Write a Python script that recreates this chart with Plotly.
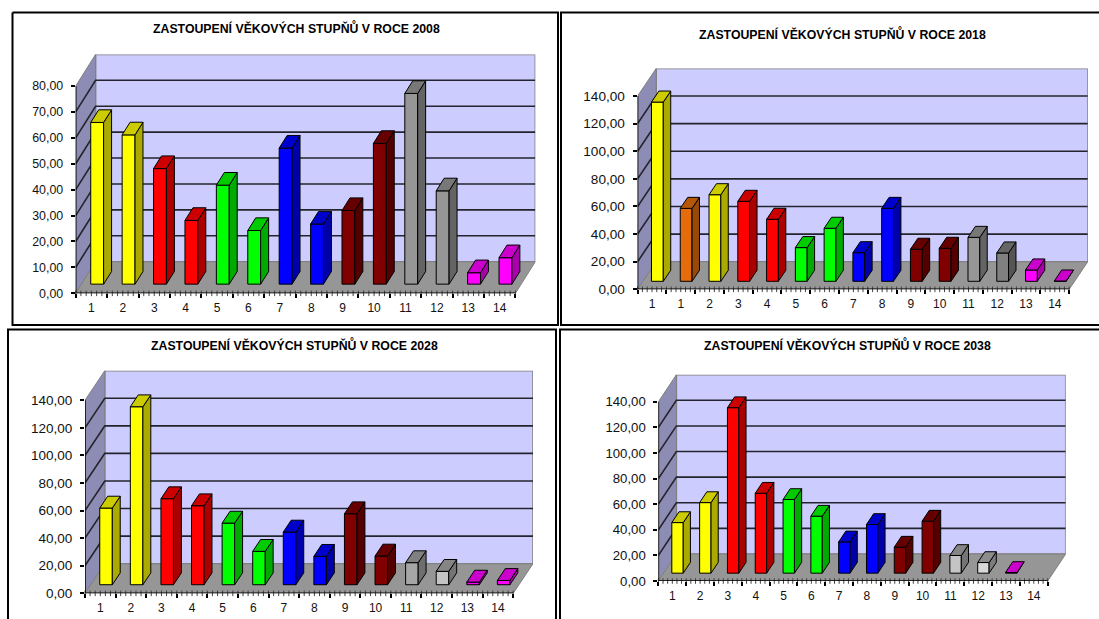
import plotly.graph_objects as go

WIDTH, HEIGHT = 1099, 619

# Age-class shares for each year
years = [2008, 2018, 2028, 2038]
labels_2008 = [str(i) for i in range(1, 15)]
labels_2018 = ["1"] + [str(i) for i in range(1, 15)]
labels_2028 = [str(i) for i in range(1, 15)]
labels_2038 = [str(i) for i in range(1, 15)]

values_2008 = [62.4, 57.6, 44.6, 24.6, 38.2, 20.7, 52.5, 23.2, 28.4, 54.3, 73.6, 36.0, 4.4, 10.2]
values_2018 = [129.8, 52.8, 62.7, 57.9, 44.9, 24.4, 38.4, 20.7, 52.8, 23.2, 23.9, 31.8, 20.5, 8.2, 0.2]
values_2028 = [55.6, 129.1, 62.4, 57.3, 44.7, 24.2, 38.2, 20.6, 51.5, 20.8, 16.0, 9.7, 1.9, 3.1]
values_2038 = [39.5, 55.1, 129.2, 62.4, 57.5, 44.5, 24.4, 38.0, 20.3, 40.6, 13.8, 8.3, 0.5, None]

colors_2008 = ["yellow", "yellow", "red", "red", "green", "green", "blue", "blue",
               "maroon", "maroon", "gray", "gray", "magenta", "magenta"]
colors_2018 = ["yellow", "orange", "yellow", "red", "red", "green", "green", "blue", "blue",
               "maroon", "maroon", "gray", "midgray", "magenta", "magenta"]
colors_2028 = ["yellow", "yellow", "red", "red", "green", "green", "blue", "blue",
               "maroon", "maroon", "ash", "silver", "magenta", "magenta"]
colors_2038 = ["yellow", "yellow", "red", "red", "green", "green", "blue", "blue",
               "maroon", "maroon", "silver", "pale", "magenta", "magenta"]

axis_max = [80, 140, 140, 140]
axis_step = [10, 20, 20, 20]

# front face, right face, top face
SHADES = {
    "yellow": ("#FFFF00", "#AAAA00", "#CCCC00"),
    "orange": ("#E46C0A", "#984807", "#B65708"),
    "red": ("#FF0000", "#AA0000", "#CC0000"),
    "green": ("#00FF00", "#00AA00", "#00CC00"),
    "blue": ("#0000FF", "#0000AA", "#0000CC"),
    "maroon": ("#800000", "#550000", "#660000"),
    "gray": ("#969696", "#646464", "#787878"),
    "midgray": ("#808080", "#555555", "#666666"),
    "ash": ("#A6A6A6", "#6E6E6E", "#808080"),
    "silver": ("#C4C4C4", "#747474", "#858585"),
    "pale": ("#D8D8D8", "#7C7C7C", "#8C8C8C"),
    "magenta": ("#FF00FF", "#AA00AA", "#CC00CC"),
}

# Panel placement in pixels: front-left, front-right, depth dx, baseline, front top, depth dy
PLACEMENT = [
    (75.7, 515.4, 19.9, 293.3, 86.0, 31.6),
    (637.6, 1069.2, 18.6, 289.3, 96.0, 27.6),
    (85.0, 513.2, 19.8, 593.3, 400.3, 29.6),
    (658.4, 1047.7, 18.0, 581.0, 401.7, 27.0),
]
VALUE_FONT_SIZE = [12.4, 13.6, 13.5, 13.2]
TITLE_POS = [(296.5, 28), (842, 34), (294, 345), (847, 345)]
# Visible edges of the outer frames, as pixel polylines kept inside the page
FRAME_EDGES = [
    [(12.5, 12.5), (558, 12.5), (558, 325), (12.5, 325), (12.5, 12.5)],
    [(1099, 12.5), (561, 12.5), (561, 325), (1099, 325)],
    [(8, 619), (8, 329.5), (556, 329.5), (556, 619)],
    [(560, 619), (560, 329.5), (1099, 329.5)],
]

FRONT_DEPTH, BACK_DEPTH = 0.29, 0.69
BAR_WIDTH = 0.41
FINE_TICKS_PER_CATEGORY = 6
FONT = "Liberation Sans"

fig = go.Figure()
series = [
    (labels_2008, values_2008, colors_2008),
    (labels_2018, values_2018, colors_2018),
    (labels_2028, values_2028, colors_2028),
    (labels_2038, values_2038, colors_2038),
]
shapes = []
annotations = []


def polygon(points):
    return "M " + " L ".join(f"{x},{y}" for x, y in points) + " Z"


for idx, (labels, values, colors) in enumerate(series):
    left, right, dx_px, base_px, top_px, dy_px = PLACEMENT[idx]
    n = len(labels)
    vmax, step = axis_max[idx], axis_step[idx]
    px_x = (right - left) / n
    px_y = (base_px - top_px) / vmax
    dx, dy = dx_px / px_x, dy_px / px_y
    xname, yname = ("x", "y") if idx == 0 else (f"x{idx + 1}", f"y{idx + 1}")
    axis_suffix = "" if idx == 0 else str(idx + 1)

    ticks = list(range(0, vmax + step, step))

    # Walls and floor
    wall = dict(type="path", xref=xname, yref=yname, layer="below")
    shapes.append(dict(wall, path=polygon([(dx, dy), (n + dx, dy), (n + dx, vmax + dy), (dx, vmax + dy)]),
                       fillcolor="#CCCCFF", line=dict(color="#808080", width=1.5)))
    shapes.append(dict(wall, path=polygon([(0, 0), (dx, dy), (dx, vmax + dy), (0, vmax)]),
                       fillcolor="#8C8CB4", line=dict(color="#808080", width=1)))
    shapes.append(dict(wall, path=polygon([(0, 0), (n, 0), (n + dx, dy), (dx, dy)]),
                       fillcolor="#969696", line=dict(color="#808080", width=1)))
    for v in ticks[1:-1]:
        shapes.append(dict(wall, path=f"M 0,{v} L {dx},{v + dy} L {n + dx},{v + dy}",
                           fillcolor="rgba(0,0,0,0)", line=dict(color="#24242E", width=1.6)))

    # Front faces
    floor = FRONT_DEPTH * dy
    centers = [i + 0.5 + FRONT_DEPTH * dx for i in range(n)]
    shown = [i for i in range(n) if values[i] is not None]
    fig.add_trace(go.Bar(
        x=[centers[i] for i in shown], y=[values[i] for i in shown], base=floor, width=BAR_WIDTH,
        marker=dict(color=[SHADES[colors[i]][0] for i in shown], line=dict(color="#000000", width=1)),
        xaxis=xname, yaxis=yname, showlegend=False, hoverinfo="skip",
    ))

    # Right and top faces of each column
    ddx = (BACK_DEPTH - FRONT_DEPTH) * dx
    ddy = (BACK_DEPTH - FRONT_DEPTH) * dy
    for i in shown:
        x0 = centers[i] - BAR_WIDTH / 2
        x1 = centers[i] + BAR_WIDTH / 2
        y1 = floor + values[i]
        _, side, top = SHADES[colors[i]]
        fig.add_trace(go.Scatter(
            x=[x1, x1 + ddx, x1 + ddx, x1, x1], y=[floor, floor + ddy, y1 + ddy, y1, floor],
            mode="lines", fill="toself", fillcolor=side, line=dict(color="#000000", width=1),
            xaxis=xname, yaxis=yname, showlegend=False, hoverinfo="skip",
        ))
        fig.add_trace(go.Scatter(
            x=[x0, x1, x1 + ddx, x0 + ddx, x0], y=[y1, y1, y1 + ddy, y1 + ddy, y1],
            mode="lines", fill="toself", fillcolor=top, line=dict(color="#000000", width=1),
            xaxis=xname, yaxis=yname, showlegend=False, hoverinfo="skip",
        ))

    # Fine tick row under the category axis
    fine = [k / FINE_TICKS_PER_CATEGORY for k in range(n * FINE_TICKS_PER_CATEGORY + 1)]
    fig.add_trace(go.Scatter(
        x=fine, y=[0] * len(fine), mode="markers", cliponaxis=False,
        marker=dict(symbol="line-ns", size=4, line=dict(color="#444444", width=1)),
        xaxis=xname, yaxis=yname, showlegend=False, hoverinfo="skip",
    ))

    # Axis lines stop at the front edge of the box
    fig.add_trace(go.Scatter(
        x=[0, 0, n], y=[vmax, 0, 0], mode="lines", line=dict(color="#000000", width=1.5),
        cliponaxis=False, xaxis=xname, yaxis=yname, showlegend=False, hoverinfo="skip",
    ))

    fig.update_layout({
        f"xaxis{axis_suffix}": dict(
            domain=[left / WIDTH, (right + dx_px) / WIDTH], range=[0, n + dx], anchor=yname,
            tickmode="array", tickvals=[i + 0.5 for i in range(n)], ticktext=labels,
            ticks="", showgrid=False, zeroline=False, showline=False, ticklabelstandoff=6,
            tickfont=dict(family=FONT, size=12, color="#111111"),
            minor=dict(tickmode="array", tickvals=list(range(n + 1)), ticks="outside",
                       ticklen=4, tickwidth=1.5, tickcolor="#000000", showgrid=False),
        ),
        f"yaxis{axis_suffix}": dict(
            domain=[1 - base_px / HEIGHT, 1 - (top_px - dy_px) / HEIGHT], range=[0, vmax + dy], anchor=xname,
            tickmode="array", tickvals=ticks, ticktext=[f"{v},00" for v in ticks],
            ticks="outside", ticklen=4, tickwidth=1.5, tickcolor="#000000",
            showgrid=False, zeroline=False, showline=False, ticklabelstandoff=5,
            tickfont=dict(family=FONT, size=VALUE_FONT_SIZE[idx], color="#111111"),
        ),
    })

    tx, ty = TITLE_POS[idx]
    annotations.append(dict(
        text=f"<b>ZASTOUPENÍ VĚKOVÝCH STUPŇŮ V ROCE {years[idx]}</b>",
        xref="paper", yref="paper", x=tx / WIDTH, y=1 - ty / HEIGHT, xanchor="center", yanchor="middle",
        showarrow=False, font=dict(family=FONT, size=12.3, color="#000000"),
    ))

for edge in FRAME_EDGES:
    path = "M " + " L ".join(f"{x / WIDTH},{1 - y / HEIGHT}" for x, y in edge)
    shapes.append(dict(type="path", xref="paper", yref="paper", path=path,
                       line=dict(color="#000000", width=2), fillcolor="rgba(0,0,0,0)", layer="below"))

fig.update_layout(
    width=WIDTH, height=HEIGHT, autosize=False,
    margin=dict(l=0, r=0, t=0, b=0, pad=0, autoexpand=False),
    paper_bgcolor="#FFFFFF", plot_bgcolor="rgba(0,0,0,0)", barmode="overlay",
    shapes=shapes, annotations=annotations,
)

fig.write_html("out.html")
